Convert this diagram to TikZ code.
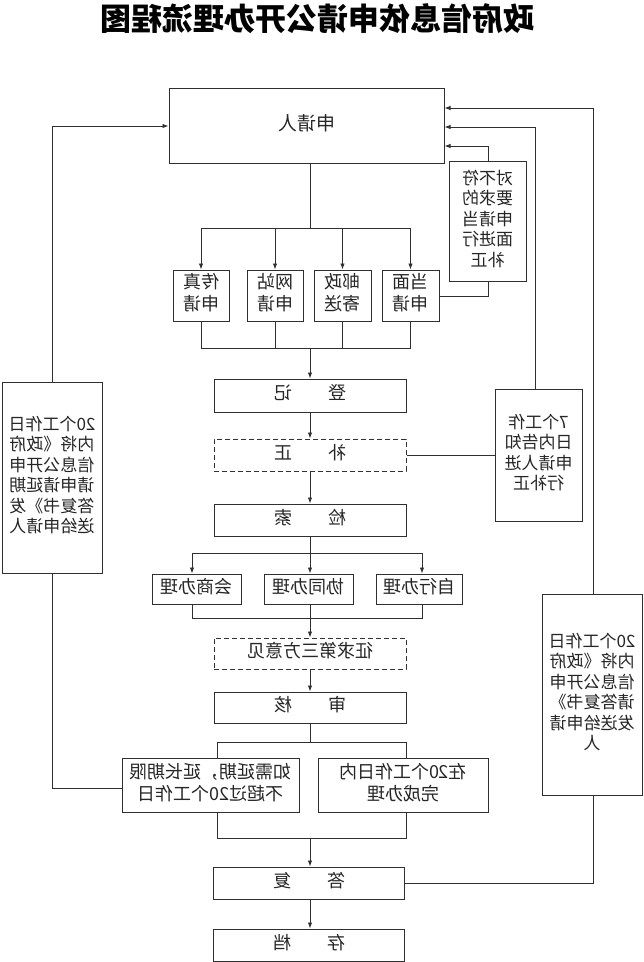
\documentclass[tikz,border=0pt]{standalone}
\usepackage{fontspec}
\usepackage{graphicx}
\setmainfont{Noto Sans CJK SC}
\usetikzlibrary{arrows.meta}
\definecolor{ln}{HTML}{303030}
\definecolor{tx}{HTML}{262626}
\newcommand\rf[1]{\reflectbox{\begin{tabular}{@{}c@{}}#1\end{tabular}}}
\begin{document}
\begin{tikzpicture}[x=1pt,y=-1pt,
  box/.style={draw=ln,line width=1pt,rectangle,inner sep=0pt,text=tx,
    font=\fontsize{18}{22}\selectfont},
  sbox/.style={box,font=\fontsize{17}{20.5}\selectfont},
  dbox/.style={box,dashed,dash pattern=on 5pt off 3pt},
  con/.style={draw=ln,line width=0.9pt},
  arr/.style={con,-{Latex[length=6pt,width=4.5pt]}}]
\useasboundingbox (0,0) rectangle (644,962);
% title
\node[text=black,font=\fontsize{31}{34}\selectfont\bfseries] (title) at (318,22) {\rf{政府信息依申请公开办理流程图}};
% main boxes
\node[box,font=\fontsize{19}{22}\selectfont,minimum width=275pt,minimum height=75pt] (app) at (306.5,125.5) {\rf{申请人}};
\node[box,minimum width=56pt,minimum height=51pt] (fax) at (201,295.5) {\rf{传真\\申请}};
\node[box,minimum width=56pt,minimum height=51pt] (web) at (275,295.5) {\rf{网站\\申请}};
\node[box,minimum width=57pt,minimum height=51pt] (post) at (342.5,295.5) {\rf{邮政\\寄送}};
\node[box,minimum width=57pt,minimum height=51pt] (face) at (410.5,295.5) {\rf{当面\\申请}};
\node[box,minimum width=192pt,minimum height=33pt] (dj) at (310,395.5) {\rf{登\qquad 记}};
\node[dbox,minimum width=192pt,minimum height=32pt] (bz) at (310,455) {\rf{补\qquad 正}};
\node[box,minimum width=192pt,minimum height=32pt] (js) at (310,520) {\rf{检\qquad 索}};
\node[box,minimum width=89pt,minimum height=30pt] (hs) at (196.5,589) {\rf{会商办理}};
\node[box,minimum width=89pt,minimum height=30pt] (xt) at (308.5,589) {\rf{协同办理}};
\node[box,minimum width=86pt,minimum height=30pt] (zx) at (419,589) {\rf{自行办理}};
\node[dbox,minimum width=192pt,minimum height=31pt] (zq) at (310,653.5) {\rf{征求第三方意见}};
\node[box,minimum width=192pt,minimum height=31pt] (sh) at (310,707.5) {\rf{审\qquad 核}};
\node[box,minimum width=177pt,minimum height=54pt] (yq) at (210.5,785) {\rf{如需延期，延长期限\\不超过20个工作日}};
\node[box,minimum width=170pt,minimum height=54pt] (wc) at (403,785) {\rf{在20个工作日内\\完成办理}};
\node[box,minimum width=191pt,minimum height=32pt] (df) at (309,883) {\rf{答\qquad 复}};
\node[box,minimum width=191pt,minimum height=32pt] (cd) at (309,945) {\rf{存\qquad 档}};
% side boxes
\node[sbox,minimum width=100pt,minimum height=191pt] (lb) at (52,477.5) {\rf{20个工作日\\内将《政府\\信息公开申\\请申请延期\\答复书》发\\送给申请人}};
\node[sbox,minimum width=100pt,minimum height=201pt] (rb) at (592,694.5) {\rf{20个工作日\\内将《政府\\信息公开申\\请答复书》\\发送给申请\\人}};
\node[sbox,minimum width=87pt,minimum height=132pt] (qb) at (538.5,455) {\rf{7个工作\\日内告知\\申请人进\\行补正}};
\node[sbox,minimum width=77pt,minimum height=120pt] (db) at (487.5,221) {\rf{对不符\\要求的\\申请当\\面进行\\补正}};
% coordinates
\coordinate (s1) at (310,228);
\coordinate (s2) at (310,348);
\coordinate (b1) at (310,553);
\coordinate (b2) at (310,618);
\coordinate (c1) at (310,742);
\coordinate (c2) at (310,838);
\coordinate (lx) at (52,126);
\coordinate (lyq) at (52,788);
\coordinate (r1) at (593,108);
\coordinate (r2) at (535,127);
\coordinate (r3) at (488,146);
\coordinate (rdf) at (593,883);
\coordinate (rface) at (488,296);
% application channels
\draw[con] (app.south -| s1) -- (s1);
\draw[con] (fax.north |- s1) -- (face.north |- s1);
\foreach \n in {fax,web,post,face} \draw[arr] (\n.north |- s1) -- (\n.north);
\foreach \n in {fax,web,post,face} \draw[con] (\n.south) -- (\n.south |- s2);
\draw[con] (fax.south |- s2) -- (face.south |- s2);
\draw[arr] (s2) -- (dj.north -| s2);
\draw[arr] (dj.south -| s1) -- (bz.north -| s1);
\draw[arr] (bz.south -| s1) -- (js.north -| s1);
% processing branches
\draw[con] (js.south -| b1) -- (b1);
\draw[con] (192,553) -- (422,553);
\draw[arr] (192,553) -- (hs.north -| 192,553);
\draw[arr] (b1) -- (xt.north -| b1);
\draw[arr] (422,553) -- (zx.north -| 422,553);
\draw[con] (hs.south -| 192,0) -- (192,618) -- (422,618) -- (zx.south -| 422,0);
\draw[arr] (xt.south -| b2) -- (zq.north -| b2);
\draw[arr] (zq.south -| b2) -- (sh.north -| b2);
% decision
\draw[con] (sh.south -| c1) -- (c1);
\draw[con] (yq.north -| 217,0) -- (217,742) -- (406,742) -- (wc.north -| 406,0);
\draw[con] (yq.south -| 217,0) -- (217,838) -- (406,838) -- (wc.south -| 406,0);
\draw[arr] (c2) -- (df.north -| c2);
\draw[arr] (df.south -| c2) -- (cd.north -| c2);
% left feedback
\draw[con] (yq.west |- lyq) -- (lyq) -- (lb.south);
\draw[arr] (lb.north) -- (lx) -- (app.west |- lx);
% right feedbacks
\draw[con] (df.east |- rdf) -- (rdf) -- (rb.south -| rdf);
\draw[arr] (rb.north -| r1) -- (r1) -- (app.east |- r1);
\draw[con] (bz.east) -- (qb.west |- bz.east);
\draw[arr] (qb.north -| r2) -- (r2) -- (app.east |- r2);
\draw[con] (face.east |- rface) -- (rface) -- (db.south -| rface);
\draw[arr] (db.north -| r3) -- (r3) -- (app.east |- r3);
\end{tikzpicture}
\end{document}
